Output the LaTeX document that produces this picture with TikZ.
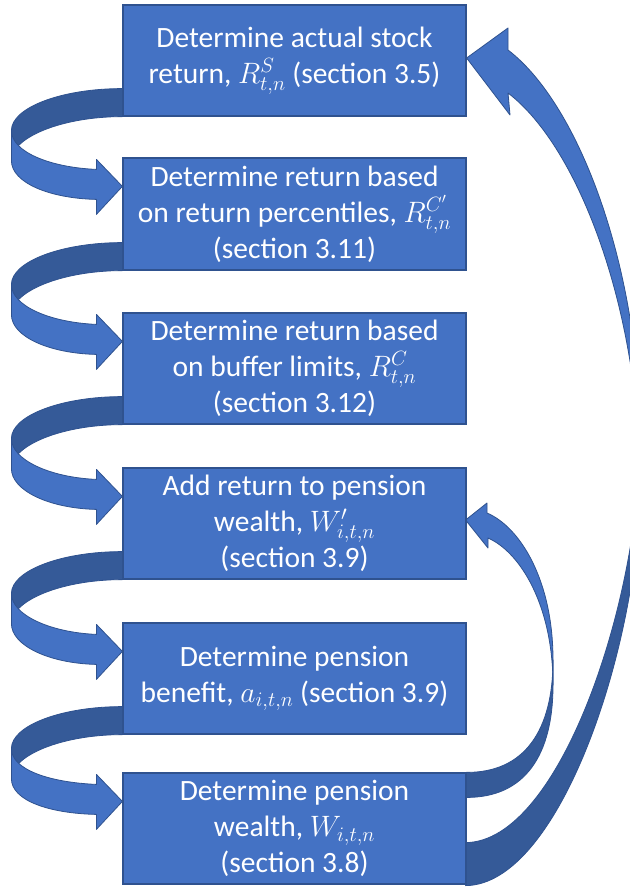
\documentclass[tikz,border=0pt]{standalone}
\usepackage{fix-cm}
\usepackage{fontspec}
\setmainfont{Carlito}
\usetikzlibrary{calc}
\definecolor{boxblue}{HTML}{4472C4}
\definecolor{boxedge}{HTML}{2F528F}
\definecolor{bandback}{HTML}{355A98}
\pgfdeclarelayer{bg}
\pgfsetlayers{bg,main}
\tikzset{
  stepbox/.style={draw=boxedge, line width=1.2pt, fill=boxblue, text=white,
    minimum width=343pt, minimum height=111pt, inner sep=0pt, align=center,
    font=\fontsize{29.5}{36}\selectfont},
  frontband/.style={fill=boxblue, draw=boxedge, line width=0.8pt, line join=round},
  backband/.style={fill=bandback, draw=boxedge, line width=0.8pt, line join=round},
}
\newcommand\myuturn[2]{%
  \path (#1.south west) coordinate (B) (#2.north west) coordinate (T);
  \filldraw[backband] ($(B)+(0,-28)$) .. controls ($(B)+(-61,-28)$) and ($(B)+(-111,-9)$) .. ($(B)+(-111,14)$)
    -- ($(B)+(-111,44)$) .. controls ($(B)+(-111,21)$) and ($(B)+(-61,0)$) .. (B) -- cycle;
  \filldraw[frontband] ($(B)+(-111,14)$) .. controls ($(B)+(-111,35)$) and ($(T)+(-73,10)$) .. ($(T)+(-26,12)$)
    -- ($(T)+(-26,2)$) -- ($(T)+(0,29)$) -- ($(T)+(-26,57)$) -- ($(T)+(-26,42)$)
    .. controls ($(T)+(-73,41)$) and ($(B)+(-111,66)$) .. ($(B)+(-111,44)$) -- cycle;
}
\begin{document}
\begin{tikzpicture}[x=1pt,y=-1pt]
\useasboundingbox (0,0) rectangle (629,888);
\clip (0,0) rectangle (629,888);
\node[stepbox] (b1) at (294.5,60.5) {Determine actual stock\\ return, $R^{S}_{t,n}$ (section 3.5)};
\node[stepbox, minimum height=112pt] (b2) at (294.5,214) {Determine return based\\ on return percentiles, $R^{C'}_{t,n}$\\ (section 3.11)};
\node[stepbox] (b3) at (294.5,368.5) {Determine return based\\ on buffer limits, $R^{C}_{t,n}$\\ (section 3.12)};
\node[stepbox] (b4) at (294.5,523.5) {Add return to pension\\ wealth, $W'_{i,t,n}$\\ (section 3.9)};
\node[stepbox] (b5) at (294.5,678.5) {Determine pension\\ benefit, $a_{i,t,n}$ (section 3.9)};
\node[stepbox] (b6) at (294.5,828.5) {Determine pension\\ wealth, $W_{i,t,n}$\\ (section 3.8)};
\begin{pgfonlayer}{bg}
  \fill[white] (0,0) rectangle (629,888);
  \myuturn{b1}{b2}
  \myuturn{b2}{b3}
  \myuturn{b3}{b4}
  \myuturn{b4}{b5}
  \myuturn{b5}{b6}
  % big arrow from b6 back to b1
  \filldraw[backband] (640,440) .. controls (640,600) and (560,842) .. ($(b6.south east)+(-1,-42)$)
    -- ($(b6.south east)+(-1,1)$) .. controls (560,885) and (640,643) .. (640,483) -- cycle;
  \filldraw[frontband] (508,28) -- ($(b1.east)+(0,-2.5)$) -- (510,115) -- (508,93)
    .. controls (580,148) and (640,313) .. (640,483) -- (640,440)
    .. controls (640,270) and (580,105) .. (508,50) -- cycle;
  % small arrow from b6 back to b4
  \filldraw[backband] (553,660) .. controls (553,730) and (525,773) .. ($(b6.north east)+(-1,0)$)
    -- ($(b6.north east)+(-1,25)$) .. controls (525,798) and (553,755) .. (553,685) -- cycle;
  \filldraw[frontband] (487,503) -- ($(b4.east)+(-1,-3.5)$) -- (488,548) -- (488,538)
    .. controls (520,552) and (553,605) .. (553,685) -- (553,660)
    .. controls (553,580) and (520,527) .. (487,513) -- cycle;
\end{pgfonlayer}
\end{tikzpicture}
\end{document}
